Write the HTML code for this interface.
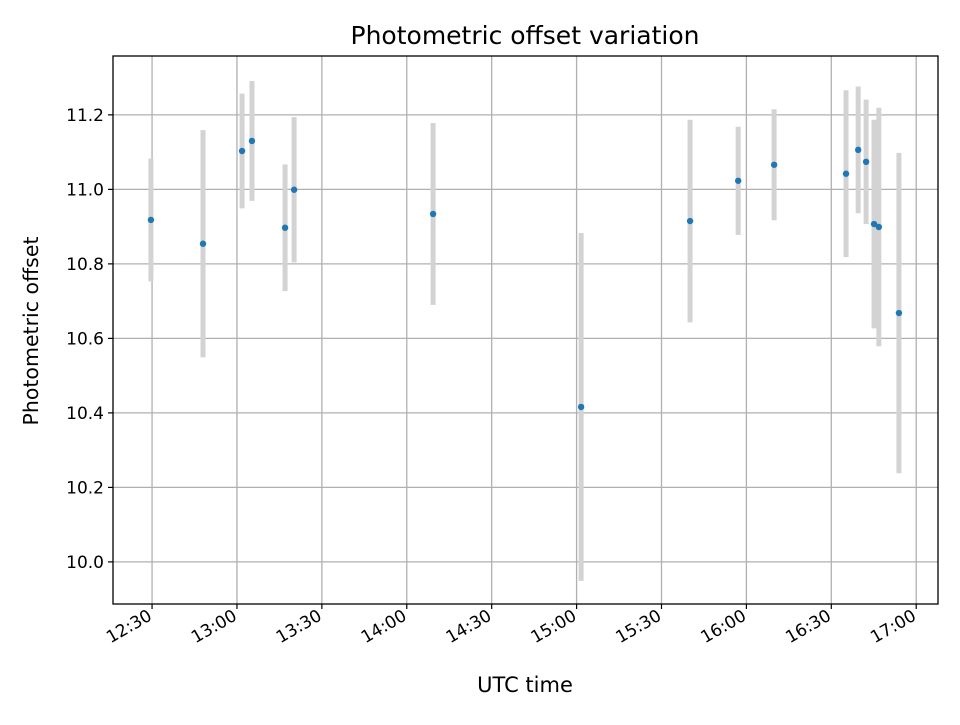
<!DOCTYPE html>
<html><head><meta charset="utf-8"><style>
body{margin:0;background:#fff;}
svg text{font-family:"DejaVu Sans","Liberation Sans",sans-serif;fill:#000;}
</style></head><body>
<svg id="chart" width="960" height="720" xmlns="http://www.w3.org/2000/svg">
<rect width="960" height="720" fill="#fff"/>
<text x="525" y="44" font-size="25" text-anchor="middle">Photometric offset variation</text>
<g id="grid"></g><g id="bars"></g><g id="pts"></g><g id="ticks"></g>
<rect x="113" y="56" width="825" height="548" fill="none" stroke="#000" stroke-width="1.3"/>
<text x="525" y="692" font-size="21" text-anchor="middle">UTC time</text>
<text transform="translate(38,331) rotate(-90)" font-size="20.5" text-anchor="middle">Photometric offset</text>
</svg>
<script>
// minutes after 12:30 UTC
const times=[-0.4,18.0,31.8,35.3,47.0,50.2,99.3,151.6,190.1,207.1,219.8,245.2,249.5,252.3,255.1,256.8,263.9];
const offsets=[10.918,10.854,11.103,11.130,10.897,10.999,10.934,10.416,10.915,11.023,11.066,11.042,11.106,11.074,10.907,10.899,10.668];
const errors=[0.165,0.305,0.154,0.161,0.17,0.195,0.244,0.467,0.272,0.145,0.149,0.224,0.17,0.167,0.28,0.32,0.43];
const yTicks=[10.0,10.2,10.4,10.6,10.8,11.0,11.2];
const xTickLabels=["12:30","13:00","13:30","14:00","14:30","15:00","15:30","16:00","16:30","17:00"];
const X0=113,X1=938,Y0=56,Y1=604,xmin=-13.8,xmax=277.7,ymin=9.887,ymax=11.358;
const xs=t=>X0+(t-xmin)/(xmax-xmin)*(X1-X0);
const ys=v=>Y1-(v-ymin)/(ymax-ymin)*(Y1-Y0);
const NS="http://www.w3.org/2000/svg";
function mk(tag,attrs,parent){const e=document.createElementNS(NS,tag);for(const k in attrs)e.setAttribute(k,attrs[k]);document.getElementById(parent).appendChild(e);return e;}
yTicks.forEach(v=>{const y=ys(v);
 const g=mk('line',{x1:X0,x2:X1,y1:y,y2:y,stroke:'#b0b0b0','stroke-width':1.3},'grid');
 
 
 mk('line',{x1:X0-5,x2:X0,y1:y,y2:y,stroke:'#000','stroke-width':1.2},'ticks');
 const t=mk('text',{x:X0-9,y:y+6,'font-size':17,'text-anchor':'end'},'ticks');
 t.textContent=v.toFixed(1);
 
 
});
xTickLabels.forEach((lab,i)=>{const x=xs(i*30);
 const g=mk('line',{x1:x,x2:x,y1:Y0,y2:Y1,stroke:'#b0b0b0','stroke-width':1.3},'grid');
 
 
 mk('line',{x1:x,x2:x,y1:Y1,y2:Y1+5,stroke:'#000','stroke-width':1.2},'ticks');
 const t=mk('text',{x:0,y:0,'font-size':17,'text-anchor':'end',transform:`translate(${x+1},${Y1+15}) rotate(-30)`},'ticks');
 t.textContent=lab;
 
 
});
times.forEach((t,i)=>{const x=xs(t);
 const b=mk('line',{x1:x,x2:x,y1:ys(offsets[i]+errors[i]),y2:ys(offsets[i]-errors[i]),stroke:'#d3d3d3','stroke-width':5},'bars');
 
 
 const c=mk('circle',{cx:x,cy:ys(offsets[i]),r:3.2,fill:'#1f77b4'},'pts');
 
 
});
</script>
</body></html>
